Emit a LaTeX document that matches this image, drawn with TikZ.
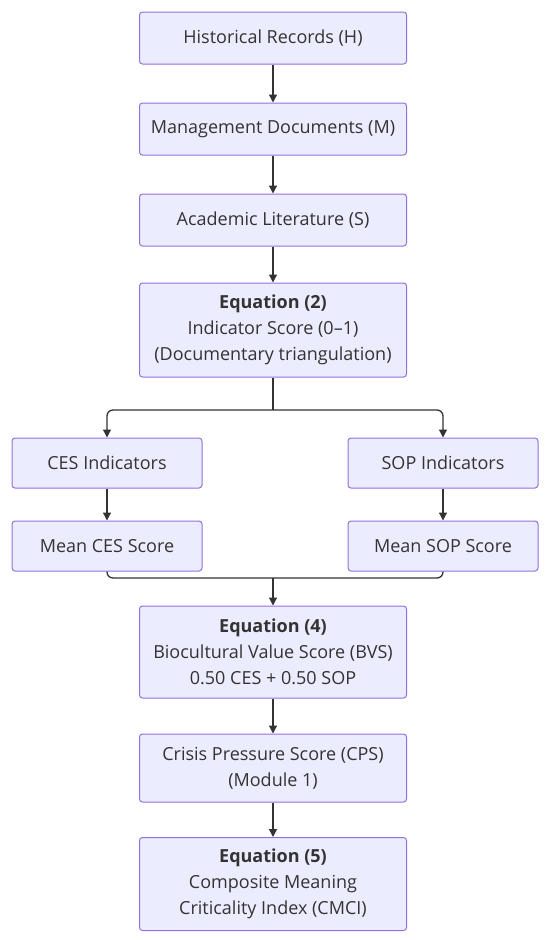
\documentclass[tikz,border=0pt]{standalone}
\usepackage{fontspec}
\setmainfont{Open Sans}
\usetikzlibrary{arrows.meta}

\definecolor{boxfill}{HTML}{ECECFF}
\definecolor{boxline}{HTML}{9370DB}
\definecolor{linkcol}{HTML}{333333}

\tikzset{
  flowbox/.style={draw=boxline, fill=boxfill, line width=1pt, rounded corners=3pt,
    minimum width=267pt, minimum height=52pt, align=center, inner sep=4pt,
    text=linkcol, font=\fontsize{18}{26}\selectfont},
  sidebox/.style={flowbox, minimum width=190pt, minimum height=50pt},
  link/.style={draw=linkcol, line width=1.3pt, rounded corners=6pt},
  arr/.style={link, -{Triangle[length=8pt,width=8pt]}}
}

\begin{document}
\begin{tikzpicture}[x=1pt,y=1pt]

\useasboundingbox (0,0) rectangle (550,-940);

% documentary sources
\node[flowbox] (hist) at (273,-38) {Historical Records (H)};
\node[flowbox] (mgmt) at (273,-129) {Management Documents (M)};
\node[flowbox] (acad) at (273,-220) {Academic Literature (S)};

\node[flowbox, minimum height=94pt] (eqtwo) at (273,-330)
  {\textbf{Equation (2)}\\Indicator Score (0–1)\\(Documentary triangulation)};

% two branches
\node[sidebox] (cesind) at (107,-463) {CES Indicators};
\node[sidebox] (sopind) at (443,-463) {SOP Indicators};
\node[sidebox] (cesmean) at (107,-546) {Mean CES Score};
\node[sidebox] (sopmean) at (443,-546) {Mean SOP Score};

\node[flowbox, minimum height=92pt] (eqfour) at (273,-652)
  {\textbf{Equation (4)}\\Biocultural Value Score (BVS)\\0.50 CES + 0.50 SOP};
\node[flowbox, minimum height=68pt] (cps) at (273,-768)
  {Crisis Pressure Score (CPS)\\(Module 1)};
\node[flowbox, minimum height=93pt] (eqfive) at (273,-884)
  {\textbf{Equation (5)}\\Composite Meaning\\Criticality Index (CMCI)};

\coordinate (split) at (273,-410);
\coordinate (join) at (273,-578);

\draw[arr] (hist) -- (mgmt);
\draw[arr] (mgmt) -- (acad);
\draw[arr] (acad) -- (eqtwo);

\draw[link] (eqtwo) -- (split);
\draw[arr] (split) -| (cesind);
\draw[arr] (split) -| (sopind);
\draw[arr] (cesind) -- (cesmean);
\draw[arr] (sopind) -- (sopmean);

\draw[link] (cesmean) |- (join);
\draw[link] (sopmean) |- (join);
\draw[arr] (join) -- (eqfour);

\draw[arr] (eqfour) -- (cps);
\draw[arr] (cps) -- (eqfive);

\end{tikzpicture}
\end{document}
